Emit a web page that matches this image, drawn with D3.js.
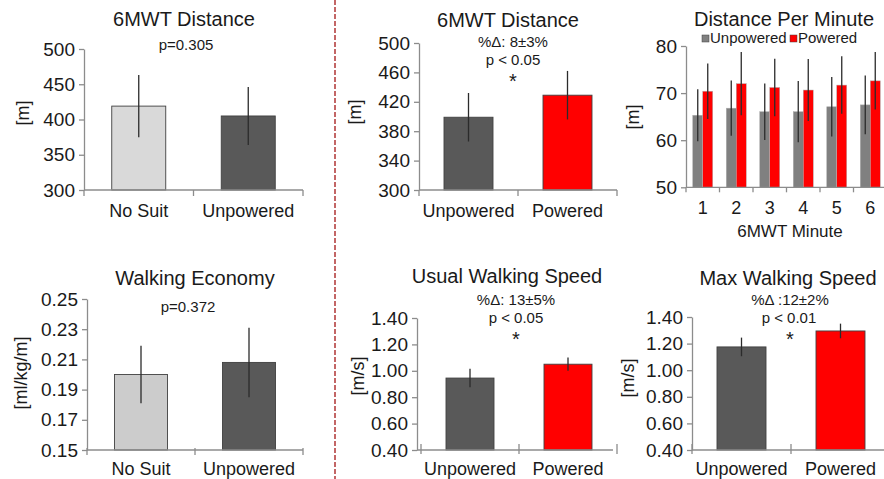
<!DOCTYPE html>
<html><head><meta charset="utf-8">
<script src="https://cdn.jsdelivr.net/npm/d3@7"></script>
<style>
html,body{margin:0;padding:0;background:#fff;}
svg text{font-family:"Liberation Sans",Arial,sans-serif;fill:#1a1a1a;}
</style></head>
<body><svg id="c" width="884" height="479"></svg>
<script>
// ---------- data ----------
const catsSuit = ["No Suit", "Unpowered"];
const catsPower = ["Unpowered", "Powered"];

const distSuit = [419, 405];
const distSuitErr = [44, 41];
const distPower = [399, 429];
const distPowerErr = [33, 33];

const minutes = ["1", "2", "3", "4", "5", "6"];
const dpmUnpowered = [65.3, 66.8, 66.05, 66.05, 67.1, 67.5];
const dpmUnpoweredErr = [5.5, 5.85, 6.0, 6.5, 6.3, 6.25];
const dpmPowered = [70.4, 72.0, 71.2, 70.65, 71.7, 72.6];
const dpmPoweredErr = [5.9, 6.7, 6.1, 6.6, 6.1, 6.1];

const economy = [0.200, 0.208];
const economyErr = [0.019, 0.023];
const usualSpeed = [0.945, 1.05];
const usualSpeedErr = [0.07, 0.05];
const maxSpeed = [1.175, 1.295];
const maxSpeedErr = [0.07, 0.055];

const ticksDistSuit = [300, 350, 400, 450, 500];
const ticksDistPower = [300, 340, 380, 420, 460, 500];
const ticksDpm = [50, 60, 70, 80];
const ticksEconomy = [0.15, 0.17, 0.19, 0.21, 0.23, 0.25];
const ticksSpeed = [0.40, 0.60, 0.80, 1.00, 1.20, 1.40];

const seriesNames = ["Unpowered", "Powered"];

// ---------- style ----------
const C_LIGHT1 = "#d9d9d9", C_LIGHT2 = "#cccccc", C_DARK = "#595959", C_RED = "#ff0000", C_GREY = "#808080";
const AXIS = "#8c8c8c";
const svg = d3.select("#c");

function yAxis(g, y, ticks, fmt, x0) {
  const ax = d3.axisLeft(y).tickValues(ticks).tickFormat(fmt).tickSizeInner(5).tickSizeOuter(0).tickPadding(4);
  const a = g.append("g").attr("transform", `translate(${x0},0)`).call(ax);
  a.select(".domain").attr("stroke", AXIS).attr("stroke-width", 1.3);
  a.selectAll(".tick line").attr("stroke", AXIS).attr("stroke-width", 1.3);
  a.selectAll(".tick text").attr("font-size", 19).attr("fill", "#1a1a1a").attr("font-family", "Liberation Sans, Arial, sans-serif");
}

function xAxisLine(g, x, cats, yb, lineStart, lineEnd, t1, t2, labelDy, fs) {
  g.append("line").attr("x1", lineStart).attr("x2", lineEnd).attr("y1", yb).attr("y2", yb)
    .attr("stroke", AXIS).attr("stroke-width", 1.3);
  const bounds = cats.map(c => x(c)).concat([x(cats[cats.length - 1]) + x.bandwidth()]);
  g.selectAll(null).data(bounds).join("line")
    .attr("x1", d => d).attr("x2", d => d).attr("y1", yb + t1).attr("y2", yb + t2)
    .attr("stroke", AXIS).attr("stroke-width", 1.3);
  g.selectAll(null).data(cats).join("text")
    .attr("x", d => x(d) + x.bandwidth() / 2).attr("y", yb + labelDy)
    .attr("text-anchor", "middle").attr("font-size", fs).text(d => d);
}

function yLabel(g, txt, x, y) {
  g.append("text").attr("transform", `translate(${x},${y}) rotate(-90)`)
    .attr("text-anchor", "middle").attr("dy", "0.35em").attr("font-size", 18).text(txt);
}

function texts(g, arr) {
  arr.forEach(t => g.append("text").attr("x", t.x).attr("y", t.y).attr("text-anchor", "middle")
    .attr("font-size", t.fs).text(t.s));
}

function barPanel(o) {
  const g = svg.append("g");
  const x = d3.scaleBand().domain(o.cats).range(o.band).padding(0);
  const y = d3.scaleLinear().domain(o.domain).range([o.yb, o.yt]);
  yAxis(g, y, o.ticks, o.fmt, o.ax);
  g.selectAll(null).data(o.cats).join("rect")
    .attr("x", d => x(d) + x.bandwidth() / 2 - o.bw / 2)
    .attr("width", o.bw)
    .attr("y", (d, i) => y(o.vals[i]))
    .attr("height", (d, i) => y(o.domain[0]) - y(o.vals[i]))
    .attr("fill", (d, i) => o.colors[i]).attr("stroke", "#404040").attr("stroke-width", 0.9);
  g.selectAll(null).data(o.cats).join("line")
    .attr("x1", d => x(d) + x.bandwidth() / 2).attr("x2", d => x(d) + x.bandwidth() / 2)
    .attr("y1", (d, i) => y(o.vals[i] + o.errs[i])).attr("y2", (d, i) => y(o.vals[i] - o.errs[i]))
    .attr("stroke", "#2b2b2b").attr("stroke-width", 1.3);
  xAxisLine(g, x, o.cats, o.yb, o.ax, o.lineEnd, o.t1, o.t2, o.ldy, 18);
  yLabel(g, o.ylab, o.ylx, o.yly);
  texts(g, o.texts);
}

// Panel 1: 6MWT distance (No Suit vs Unpowered)
barPanel({cats: catsSuit, vals: distSuit, errs: distSuitErr, colors: [C_LIGHT1, C_DARK],
  domain: [300, 500], ticks: ticksDistSuit, fmt: d3.format("d"),
  band: [84, 303], ax: 84, lineEnd: 303, yt: 49, yb: 190, bw: 54, t1: 0, t2: 6, ldy: 27,
  ylab: "[m]", ylx: 23, yly: 113,
  texts: [{s: "6MWT Distance", x: 184, y: 26, fs: 20}, {s: "p=0.305", x: 186, y: 50, fs: 15}]});

// Panel 2: 6MWT distance (Unpowered vs Powered)
barPanel({cats: catsPower, vals: distPower, errs: distPowerErr, colors: [C_DARK, C_RED],
  domain: [300, 500], ticks: ticksDistPower, fmt: d3.format("d"),
  band: [419, 617], ax: 419, lineEnd: 617, yt: 43, yb: 190, bw: 49, t1: 0, t2: 6, ldy: 27,
  ylab: "[m]", ylx: 355, yly: 112,
  texts: [{s: "6MWT Distance", x: 508, y: 27, fs: 20}, {s: "%\u0394: 8\u00b13%", x: 513, y: 47, fs: 15},
          {s: "p < 0.05", x: 513, y: 65, fs: 15}, {s: "*", x: 513, y: 88, fs: 20}]});

// Panel 4: walking economy
barPanel({cats: catsSuit, vals: economy, errs: economyErr, colors: [C_LIGHT2, C_DARK],
  domain: [0.15, 0.25], ticks: ticksEconomy, fmt: d3.format(".2f"),
  band: [87, 303], ax: 87, lineEnd: 303, yt: 299, yb: 450, bw: 53, t1: -2, t2: 5, ldy: 25,
  ylab: "[ml/kg/m]", ylx: 21, yly: 373,
  texts: [{s: "Walking Economy", x: 195, y: 285, fs: 20}, {s: "p=0.372", x: 188, y: 312, fs: 15}]});

// Panel 5: usual walking speed
barPanel({cats: catsPower, vals: usualSpeed, errs: usualSpeedErr, colors: [C_DARK, C_RED],
  domain: [0.40, 1.40], ticks: ticksSpeed, fmt: d3.format(".2f"),
  band: [421, 617], ax: 417, lineEnd: 613, yt: 318, yb: 450, bw: 48, t1: -6, t2: 4, ldy: 25,
  ylab: "[m/s]", ylx: 358, yly: 376,
  texts: [{s: "Usual Walking Speed", x: 507, y: 283, fs: 20}, {s: "%\u0394: 13\u00b15%", x: 516, y: 305, fs: 15},
          {s: "p < 0.05", x: 516, y: 323, fs: 15}, {s: "*", x: 516, y: 346, fs: 20}]});

// Panel 6: max walking speed
barPanel({cats: catsPower, vals: maxSpeed, errs: maxSpeedErr, colors: [C_DARK, C_RED],
  domain: [0.40, 1.40], ticks: ticksSpeed, fmt: d3.format(".2f"),
  band: [692, 890], ax: 692, lineEnd: 890, yt: 317, yb: 450, bw: 49, t1: -6, t2: 4, ldy: 25,
  ylab: "[m/s]", ylx: 628, yly: 378,
  texts: [{s: "Max Walking Speed", x: 788, y: 285, fs: 20}, {s: "%\u0394 :12\u00b12%", x: 790, y: 305, fs: 15},
          {s: "p < 0.01", x: 789, y: 323, fs: 15}, {s: "*", x: 790, y: 346, fs: 20}]});

// Panel 3: distance per minute (grouped)
(function () {
  const g = svg.append("g");
  const x = d3.scaleBand().domain(minutes).range([686, 887]).padding(0);
  const xs = d3.scaleBand().domain(seriesNames).range([0, 20]).padding(0);
  const y = d3.scaleLinear().domain([50, 80]).range([187.3, 46]);
  yAxis(g, y, ticksDpm, d3.format("d"), 686);
  const series = [
    {name: "Unpowered", vals: dpmUnpowered, errs: dpmUnpoweredErr, color: C_GREY},
    {name: "Powered", vals: dpmPowered, errs: dpmPoweredErr, color: C_RED}
  ];
  const off = (x.bandwidth() - 20) / 2;
  series.forEach(s => {
    g.selectAll(null).data(minutes).join("rect")
      .attr("x", d => x(d) + off + xs(s.name)).attr("width", xs.bandwidth())
      .attr("y", (d, i) => y(s.vals[i])).attr("height", (d, i) => y(50) - y(s.vals[i]))
      .attr("fill", s.color).attr("stroke", "#b0b0b0").attr("stroke-width", 0.5);
  });
  series.forEach(s => {
    g.selectAll(null).data(minutes).join("line")
      .attr("x1", d => x(d) + off + xs(s.name) + xs.bandwidth() / 2)
      .attr("x2", d => x(d) + off + xs(s.name) + xs.bandwidth() / 2)
      .attr("y1", (d, i) => y(s.vals[i] + s.errs[i])).attr("y2", (d, i) => y(s.vals[i] - s.errs[i]))
      .attr("stroke", "#2b2b2b").attr("stroke-width", 1.3);
  });
  xAxisLine(g, x, minutes, 187.3, 686, 884, 0, 5, 27, 18);
  yLabel(g, "[m]", 633, 117);
  texts(g, [{s: "Distance Per Minute", x: 784, y: 26, fs: 20}, {s: "6MWT Minute", x: 790, y: 237, fs: 17}]);
  // legend
  const leg = g.append("g");
  const lx = [702, 790];
  series.forEach((s, i) => {
    leg.append("rect").attr("x", lx[i]).attr("y", 35).attr("width", 7).attr("height", 7)
      .attr("fill", s.color).attr("stroke", "#404040").attr("stroke-width", 0.5);
    leg.append("text").attr("x", lx[i] + 8).attr("y", 43).attr("font-size", 15).text(s.name);
  });
})();

// divider
svg.append("line").attr("x1", 335).attr("x2", 335).attr("y1", 0).attr("y2", 479)
  .attr("stroke", "#b03535").attr("stroke-width", 1.5).attr("stroke-dasharray", "5,2");
</script></body></html>
